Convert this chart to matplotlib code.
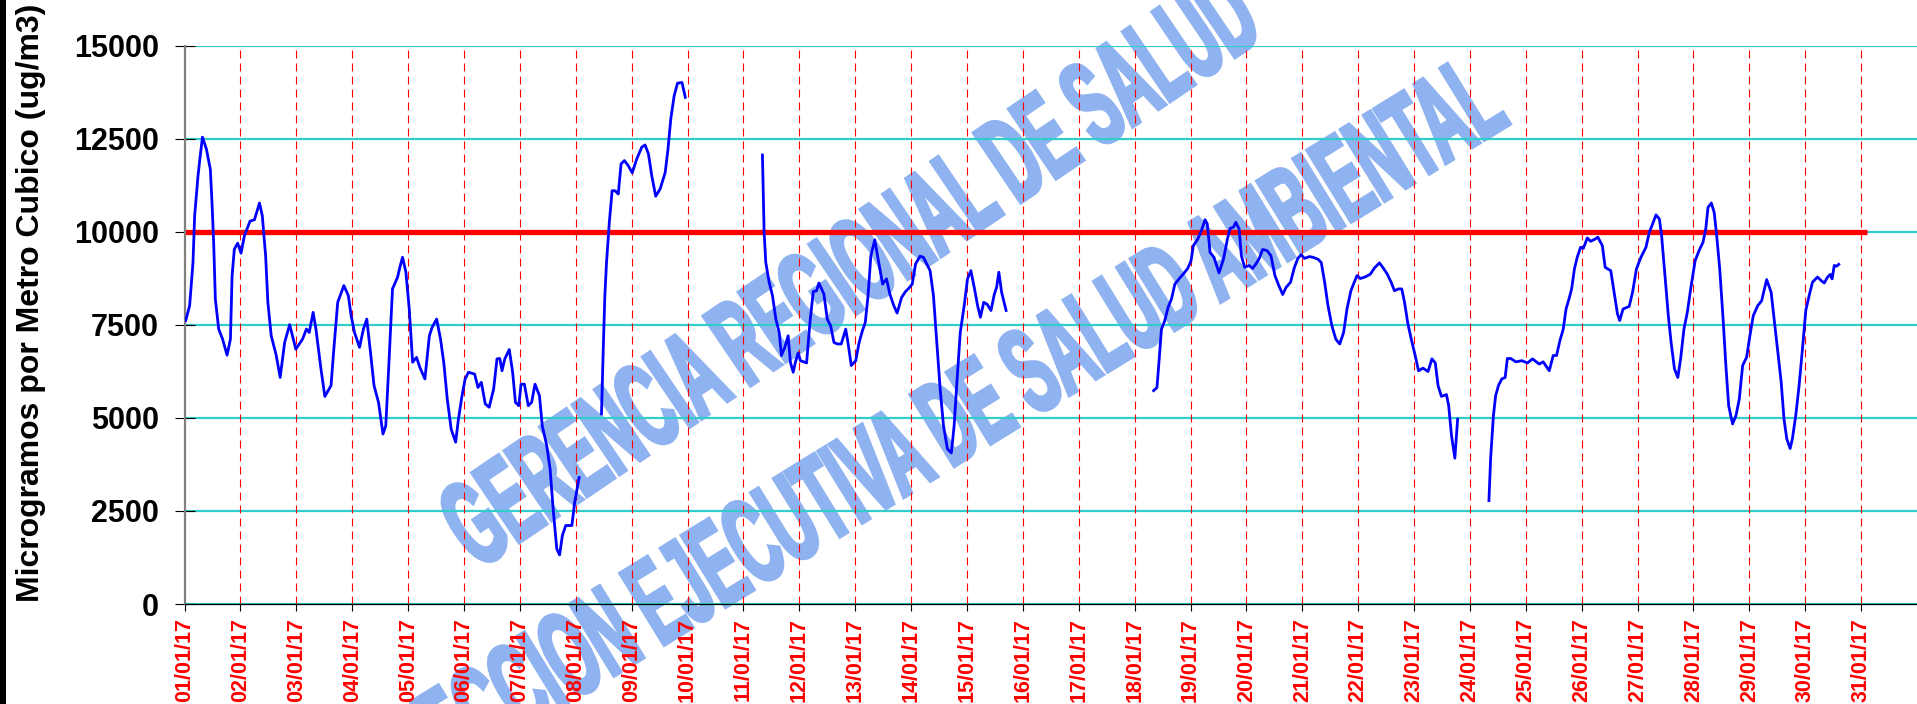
import numpy as np
import matplotlib
matplotlib.use('Agg')
import matplotlib.pyplot as plt
from matplotlib.textpath import TextPath
from matplotlib.patches import PathPatch, Rectangle
from matplotlib.font_manager import FontProperties
from matplotlib.transforms import Affine2D

plt.rcParams['font.family'] = ['Liberation Sans', 'DejaVu Sans']

# Data: days since 01/01/17 00:00 and concentration (ug/m3), one pair per continuous stretch
seg1_d = [0.02, 0.09, 0.15, 0.18, 0.24, 0.28, 0.32, 0.39, 0.46, 0.49,
          0.52, 0.55, 0.61, 0.68, 0.76, 0.82, 0.85, 0.89, 0.95, 1.01,
          1.07, 1.17, 1.25, 1.34, 1.39, 1.45, 1.49, 1.55, 1.64, 1.71,
          1.79, 1.88, 1.99, 2.11, 2.18, 2.23, 2.30, 2.35, 2.44, 2.51,
          2.62, 2.67, 2.74, 2.85, 2.93, 2.98, 3.04, 3.13, 3.20, 3.26,
          3.32, 3.39, 3.47, 3.55, 3.60, 3.66, 3.72, 3.81, 3.86, 3.90,
          3.96, 4.02, 4.08, 4.15, 4.21, 4.30, 4.38, 4.43, 4.51,
          4.58, 4.64, 4.70, 4.77, 4.85, 4.90, 4.96, 5.02, 5.08, 5.19,
          5.25, 5.31, 5.38, 5.45, 5.53, 5.59, 5.64, 5.68, 5.73, 5.81,
          5.87, 5.92, 5.98, 6.02, 6.08, 6.15, 6.21, 6.27, 6.35, 6.40,
          6.48, 6.54, 6.60, 6.66, 6.71, 6.76, 6.82, 6.93, 6.98, 7.06]
seg1_v = [7620, 8020, 9180, 10440, 11510, 12050, 12550, 12230, 11690, 10800,
          9720, 8200, 7390, 7120, 6690, 7120, 8830, 9540, 9700, 9430,
          9900, 10290, 10330, 10780, 10440, 9360, 8110, 7210, 6680, 6090,
          7030, 7510, 6850, 7120, 7390, 7300, 7840, 7390, 6320, 5580,
          5870, 6850, 8110, 8560, 8290, 7750, 7300, 6900, 7390, 7660,
          6850, 5870, 5420, 4570, 4790, 6590, 8470, 8780, 9100, 9320,
          8920, 7930, 6500, 6630, 6360, 6050, 7210, 7440, 7660,
          7120, 6460, 5510, 4700, 4350, 4970, 5560, 6050, 6230, 6180,
          5820, 5960, 5380, 5290, 5780, 6590, 6600, 6270, 6590, 6840,
          6230, 5420, 5330, 5910, 5910, 5330, 5420, 5910, 5600, 4790,
          4260, 3630, 2460, 1480, 1320, 1840, 2110, 2110, 2730, 3400]

seg2_d = [7.46, 7.49, 7.52, 7.55, 7.60, 7.65, 7.70, 7.73, 7.76, 7.81,
          7.87, 7.94, 8.01, 8.09, 8.18, 8.24, 8.30, 8.36, 8.43, 8.51,
          8.60, 8.65, 8.70, 8.76, 8.82, 8.90, 8.96]
seg2_v = [5110, 6770, 8290, 9180, 10260, 11110, 11110, 11070, 11020, 11830,
          11920, 11780, 11590, 11960, 12280, 12340, 12100, 11510, 10960, 11160,
          11600, 12230, 13040, 13660, 14000, 14020, 13620]

seg3_d = [10.34, 10.37, 10.40, 10.46, 10.52, 10.58, 10.64, 10.68, 10.74, 10.80,
          10.84, 10.89, 10.93, 10.98, 11.02, 11.08, 11.13, 11.19, 11.25, 11.31,
          11.35, 11.44, 11.50, 11.56, 11.62, 11.68, 11.75, 11.83, 11.87, 11.93,
          12.01, 12.07, 12.13, 12.18, 12.23, 12.28, 12.35, 12.41, 12.49, 12.56,
          12.62, 12.69, 12.75, 12.83, 12.90, 12.96, 13.02, 13.08, 13.16, 13.22,
          13.28, 13.34, 13.40, 13.46, 13.52, 13.58, 13.65, 13.72, 13.77, 13.82,
          13.88, 13.95, 14.01, 14.07, 14.13, 14.19, 14.24, 14.30, 14.36, 14.43,
          14.49, 14.53, 14.57, 14.62, 14.70]
seg3_v = [12070, 10000, 9180, 8650, 8290, 7660, 7300, 6680, 6900, 7210,
          6500, 6230, 6500, 6750, 6540, 6510, 6480, 7570, 8400, 8420,
          8630, 8330, 7660, 7480, 7030, 6990, 6990, 7390, 7030, 6410,
          6540, 7030, 7350, 7570, 8290, 9360, 9790, 9270, 8600, 8740,
          8330, 8020, 7820, 8240, 8400, 8490, 8600, 9140, 9350, 9320,
          9140, 8960, 8290, 7030, 5780, 4790, 4170, 4060, 4790, 5960,
          7300, 8020, 8740, 8960, 8510, 8020, 7710, 8110, 8060, 7890,
          8330, 8510, 8920, 8380, 7890]

seg4_d = [17.34, 17.40, 17.44, 17.48, 17.54, 17.60, 17.66, 17.72, 17.80, 17.87,
          17.95, 18.01, 18.05, 18.13, 18.20, 18.26, 18.30, 18.35, 18.42, 18.51,
          18.59, 18.66, 18.71, 18.77, 18.81, 18.87, 18.91, 18.97, 19.05, 19.11,
          19.17, 19.23, 19.29, 19.37, 19.44, 19.51, 19.58, 19.65, 19.71, 19.79,
          19.86, 19.92, 19.98, 20.04, 20.13, 20.19, 20.28, 20.34, 20.40, 20.46,
          20.53, 20.60, 20.67, 20.74, 20.80, 20.87, 20.93, 20.98, 21.04, 21.14,
          21.22, 21.29, 21.38, 21.44, 21.52, 21.59, 21.65, 21.72, 21.78, 21.83,
          21.89, 21.95, 22.02, 22.08, 22.16, 22.25, 22.32, 22.38, 22.43, 22.49,
          22.58, 22.62, 22.67, 22.73, 22.78]
seg4_v = [5735, 5820, 6590, 7390, 7620, 7980, 8200, 8600, 8750, 8870,
          9020, 9230, 9630, 9810, 10060, 10330, 10220, 9450, 9320, 8900,
          9270, 9810, 10100, 10130, 10260, 10080, 9360, 9050, 9100, 9020,
          9140, 9290, 9530, 9500, 9360, 8830, 8560, 8320, 8510, 8650,
          9050, 9290, 9390, 9290, 9340, 9320, 9270, 9180, 8650, 8020,
          7480, 7120, 6990, 7300, 7930, 8420, 8650, 8830, 8750, 8800,
          8870, 9030, 9170, 9050, 8870, 8650, 8420, 8470, 8470, 8110,
          7530, 7120, 6680, 6270, 6340, 6250, 6590, 6480, 5870, 5580,
          5630, 5330, 4530, 3920, 4970]

seg5_d = [23.34, 23.37, 23.42, 23.46, 23.51, 23.57, 23.63, 23.67, 23.73, 23.82,
          23.93, 24.03, 24.12, 24.24, 24.31, 24.42, 24.49, 24.55, 24.61, 24.67,
          24.72, 24.78, 24.82, 24.87, 24.92, 24.98, 25.03, 25.06, 25.10, 25.16,
          25.24, 25.29, 25.37, 25.42, 25.52, 25.58, 25.64, 25.68, 25.74, 25.85,
          25.91, 25.98, 26.06, 26.15, 26.21, 26.27, 26.33, 26.39, 26.43, 26.49,
          26.55, 26.60, 26.66, 26.72, 26.77, 26.83, 26.89, 26.95, 27.03, 27.10,
          27.17, 27.22, 27.26, 27.32, 27.37, 27.41, 27.47, 27.53, 27.58, 27.63,
          27.70, 27.76, 27.82, 27.88, 27.95, 28.01, 28.07, 28.15, 28.22, 28.27,
          28.31, 28.39, 28.45, 28.51, 28.57, 28.62, 28.67, 28.73, 28.77, 28.83,
          28.89, 28.95, 29.01, 29.07, 29.13, 29.22, 29.28, 29.34, 29.40, 29.45,
          29.48, 29.52, 29.56, 29.60]
seg5_v = [2780, 3900, 5060, 5600, 5870, 6050, 6090, 6600, 6600, 6510,
          6540, 6480, 6590, 6450, 6510, 6270, 6680, 6680, 7080, 7390,
          7930, 8240, 8470, 9010, 9320, 9590, 9560, 9680, 9840, 9750,
          9810, 9860, 9630, 9050, 8960, 8380, 7800, 7620, 7930, 8000,
          8380, 9010, 9320, 9590, 9990, 10220, 10460, 10350, 9900, 8830,
          7750, 7030, 6320, 6090, 6590, 7390, 7840, 8470, 9230, 9500,
          9720, 10080, 10660, 10780, 10530, 9990, 9010, 7660, 6410, 5330,
          4840, 5060, 5510, 6410, 6630, 7210, 7750, 8020, 8150, 8470,
          8720, 8380, 7570, 6770, 5960, 4970, 4440, 4180, 4440, 5060,
          5870, 6850, 7890, 8290, 8650, 8790, 8700, 8630, 8790, 8860,
          8740, 9100, 9080, 9130]

segments = [(seg1_d, seg1_v), (seg2_d, seg2_v), (seg3_d, seg3_v),
            (seg4_d, seg4_v), (seg5_d, seg5_v)]

limit = 10000
tick_days = list(range(0, 31))
tick_labels = [f'{d:02d}/01/17' for d in range(1, 32)]
y_ticks = [0, 2500, 5000, 7500, 10000, 12500, 15000]
ylabel = 'Microgramos por Metro Cubico (ug/m3)'
wm_top = 'GERENCIA REGIONAL DE SALUD'
wm_bottom = 'DIRECCION EJECUTIVA DE SALUD AMBIENTAL'

# Figure
W, H = 1917, 704
fig = plt.figure(figsize=(W / 100, H / 100), dpi=100)
fig.patch.set_facecolor('white')
ax = fig.add_axes([184.6 / W, 1 - 604 / H, 1 - 184.6 / W, (604 - 46) / H])
ax.set_xlim(0, 31)
ax.set_ylim(0, 15000)

# Watermark (condensed bold text drawn as paths, in pixel coordinates)
wm_color = '#8fb2f0'
prop = FontProperties(family='Liberation Sans', weight='bold')
cap = TextPath((0, 0), 'H', size=100, prop=prop).get_extents().height
s = 84 / cap
start, end = np.array([480, 135]), np.array([1265, 667])
angle = np.degrees(np.arctan2(*(end - start)[::-1]))
tp1 = TextPath((0, 0), wm_top, size=100, prop=prop)
e1 = tp1.get_extents()
xs = np.hypot(*(end - start)) / (e1.width * s)
tr1 = Affine2D().translate(-e1.x0, 0).scale(s * xs, s).rotate_deg(angle).translate(*start)
ax.add_patch(PathPatch(tp1, transform=tr1, facecolor=wm_color, edgecolor=wm_color,
                       linewidth=2.8, zorder=0.3, clip_on=False))
tp2 = TextPath((0, 0), wm_bottom, size=100, prop=prop)
e2 = tp2.get_extents()
tr2 = Affine2D().translate(-e2.x1, 0).scale(s * xs, s).rotate_deg(angle - 2.5).translate(1510, 580)
ax.add_patch(PathPatch(tp2, transform=tr2, facecolor=wm_color, edgecolor=wm_color,
                       linewidth=2.8, zorder=0.3, clip_on=False))

# Grid
ax.set_axisbelow(True)
ax.set_yticks(y_ticks)
ax.grid(axis='y', color='#33cccc', linewidth=1.6)
ax.vlines(tick_days[1:], 0, 15000, colors='red', linewidth=0.8,
          linestyles=(0, (7.2, 4.5)), zorder=0.6)

# Limit line and data
ax.hlines(limit, tick_days[0] - 0.1, tick_days[-1] + 0.1, color='red', linewidth=3.8, zorder=2)
for d, v in segments:
    ax.plot(d, v, color='blue', linewidth=2.0, zorder=3)

# Axes styling
for sp in ['top', 'right']:
    ax.spines[sp].set_visible(False)
ax.spines['left'].set_color('#808080')
ax.spines['left'].set_linewidth(1.6)
ax.spines['bottom'].set_color('black')
ax.spines['bottom'].set_linewidth(0.9)

ax.tick_params(axis='y', direction='inout', length=15, width=0.8, color='black',
               pad=11, labelsize=22)
ax.tick_params(axis='x', direction='out', length=5, width=0.8, color='black',
               pad=5, labelsize=15.5, labelcolor='red')
ax.set_xticks(tick_days)
ax.set_xticklabels(tick_labels, rotation=90, fontweight='bold')
for lab in ax.get_yticklabels():
    lab.set_fontweight('bold')

fig.text(31 / W, 1 - 303 / H, ylabel, rotation=90, ha='center', va='center',
         fontsize=23, fontweight='bold')

# Dark strip on the left edge
fig.patches.append(Rectangle((0, 0), 6 / W, 1, transform=fig.transFigure,
                             facecolor='black', edgecolor='none'))

fig.savefig('out.png', dpi=100)
